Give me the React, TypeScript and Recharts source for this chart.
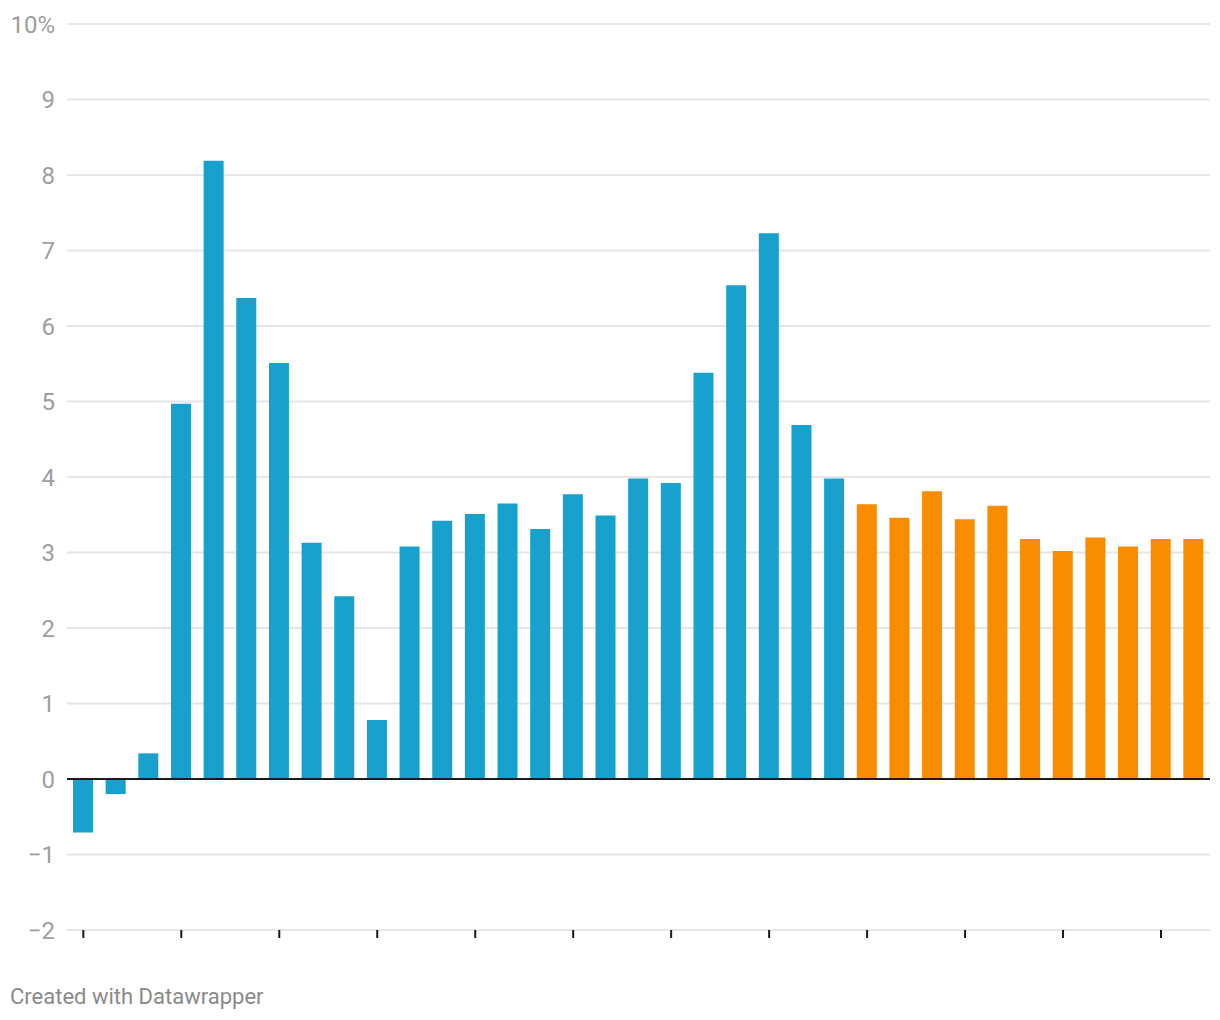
import React from "react";
import { BarChart, Bar, XAxis, YAxis, CartesianGrid, ReferenceLine, Cell } from "recharts";

const years = [
  "1990", "1991", "1992", "1993", "1994", "1995", "1996", "1997", "1998", "1999",
  "2000", "2001", "2002", "2003", "2004", "2005", "2006", "2007", "2008", "2009",
  "2010", "2011", "2012", "2013", "2014", "2015", "2016", "2017", "2018", "2019",
  "2020", "2021", "2022", "2023", "2024",
];

const actual = [
  -0.71, -0.2, 0.34, 4.97, 8.19, 6.37, 5.51, 3.13, 2.42, 0.78,
  3.08, 3.42, 3.51, 3.65, 3.31, 3.77, 3.49, 3.98, 3.92, 5.38,
  6.54, 7.23, 4.69, 3.98,
];

const projected = [3.64, 3.46, 3.81, 3.44, 3.62, 3.18, 3.02, 3.2, 3.08, 3.18, 3.18];

const yTicks = [-2, -1, 0, 1, 2, 3, 4, 5, 6, 7, 8, 9, 10];

const BLUE = "#18a1cd";
const ORANGE = "#fa8c00";

const data = years.map((year, i) => ({
  year,
  value: i < actual.length ? actual[i] : projected[i - actual.length],
  projected: i >= actual.length,
}));

function formatTick(v: number): string {
  if (v === 10) return "10%";
  if (v < 0) return `\u2212${Math.abs(v)}`;
  return String(v);
}

// x ticks carry no labels, only the small black marks
const EmptyTick = () => <g />;

export default function App() {
  return (
    <div
      style={{
        position: "absolute",
        left: 0,
        top: 0,
        width: 1220,
        height: 1020,
        background: "#fff",
        fontFamily: "Roboto, sans-serif",
      }}
    >
      <BarChart
        width={1220}
        height={960}
        data={data}
        margin={{ top: 24, right: 10, left: 0, bottom: 20 }}
        barSize={20}
      >
        <CartesianGrid vertical={false} stroke="#e6e6e6" strokeWidth={2} />
        <XAxis
          dataKey="year"
          interval={2}
          tick={EmptyTick}
          axisLine={false}
          tickLine={{ stroke: "#1a1a1a", strokeWidth: 2 }}
          tickSize={8}
          height={10}
        />
        <YAxis
          domain={[-2, 10]}
          ticks={yTicks}
          tickFormatter={formatTick}
          axisLine={false}
          tickLine={false}
          tickSize={0}
          tickMargin={12}
          width={67}
          tick={{ fontSize: 24, fill: "#9e9e9e" }}
        />
        <Bar dataKey="value" isAnimationActive={false}>
          {data.map((d) => (
            <Cell key={d.year} fill={d.projected ? ORANGE : BLUE} />
          ))}
        </Bar>
        <ReferenceLine y={0} stroke="#1a1a1a" strokeWidth={2} />
      </BarChart>
      <div
        style={{
          position: "absolute",
          left: 10,
          top: 986,
          fontSize: 22,
          lineHeight: "22px",
          color: "#8a8a8a",
        }}
      >
        Created with Datawrapper
      </div>
    </div>
  );
}
